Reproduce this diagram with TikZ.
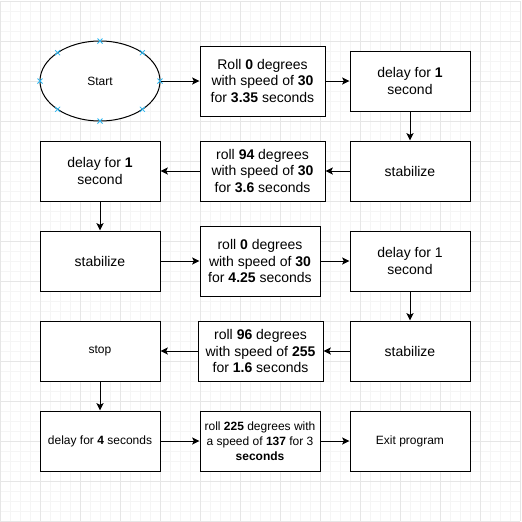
\documentclass[tikz,border=0pt]{standalone}
\usepackage{fontspec}
\setmainfont{Liberation Sans}
\usetikzlibrary{arrows.meta,shapes.geometric}
\definecolor{gridminor}{HTML}{F5F5F5}
\definecolor{gridmajor}{HTML}{E6E6E6}
\definecolor{pointblue}{HTML}{29B6F2}
\tikzset{
	box/.style={draw, line width=0.75pt, rectangle, minimum width=90pt, minimum height=45pt, inner sep=0pt, align=center, font=\fontsize{10.5}{12.6}\selectfont},
	smallbox/.style={box, font=\fontsize{9}{11.2}\selectfont},
	startoval/.style={draw, line width=0.75pt, ellipse, minimum width=90pt, minimum height=60pt, inner sep=0pt, font=\fontsize{9}{10.8}\selectfont},
	arr/.style={line width=0.75pt, -{Stealth[length=5.5pt,width=5.25pt,inset=1.2pt]}}
}

\begin{document}
\begin{tikzpicture}[x=0.75pt, y=-0.75pt]
			%%%%% START %%%%%
			
			\useasboundingbox (0, 0) rectangle (522, 522);
			\fill[white] (0, 0) rectangle (522, 522);
			
			% background grid
			\foreach \g in {0, 10, ..., 520} {
				\draw[gridminor, line width=0.75pt] (\g, 1) -- (\g, 521);
				\draw[gridminor, line width=0.75pt] (0, \g+1) -- (520, \g+1);
			}
			\foreach \g in {0, 40, ..., 520} {
				\draw[gridmajor, line width=0.75pt] (\g, 1) -- (\g, 521);
				\draw[gridmajor, line width=0.75pt] (0, \g+1) -- (520, \g+1);
			}
			
			% row 1
			\node[startoval, fill=white] (start) at (100, 81) {Start};
			\foreach \a in {0, 45, ..., 315} {
				\draw[pointblue, line width=0.6pt] ({100+60*cos(\a)-2.5}, {81+40*sin(\a)-2.5}) -- ++(5, 5) ++(-5, 0) -- ++(5, -5);
			}
			\node[box, fill=white, minimum width=93.75pt, minimum height=52.5pt] (roll0) at (262.5, 81) {Roll \textbf{0} degrees\\with speed of \textbf{30}\\for \textbf{3.35} seconds};
			\node[box, fill=white] (delayA) at (410, 81) {delay for \textbf{1}\\second};
			
			% row 2
			\node[box, fill=white] (stabA) at (410, 171) {stabilize};
			\node[box, fill=white, minimum width=93.75pt] (roll94) at (262.5, 171) {roll \textbf{94} degrees\\with speed of \textbf{30}\\for \textbf{3.6} seconds};
			\node[box, fill=white] (delayB) at (100, 171) {delay for \textbf{1}\\second};
			
			% row 3
			\node[box, fill=white] (stabB) at (100, 261) {stabilize};
			\node[box, fill=white, minimum height=52.5pt] (rollC) at (260, 261) {roll \textbf{0} degrees\\with speed of \textbf{30}\\for \textbf{4.25} seconds};
			\node[box, fill=white] (delayC) at (410, 261) {delay for 1\\second};
			
			% row 4
			\node[box, fill=white] (stabC) at (410, 351) {stabilize};
			\node[box, fill=white, minimum width=93.75pt] (roll96) at (260.5, 351) {roll \textbf{96} degrees\\with speed of \textbf{255}\\for \textbf{1.6} seconds};
			\node[smallbox, fill=white] (stop) at (100, 351) {stop};
			
			% row 5
			\node[smallbox, fill=white] (delayD) at (100, 441) {delay for \textbf{4} seconds};
			\node[smallbox, fill=white] (roll225) at (260, 441) {roll \textbf{225} degrees with\\a speed of \textbf{137} for 3\\\textbf{seconds}};
			\node[smallbox, fill=white] (exit) at (410, 441) {Exit program};
			
			% connectors
			\draw[arr] (start) -- (roll0);
			\draw[arr] (roll0) -- (delayA);
			\draw[arr] (delayA) -- (stabA);
			\draw[arr] (stabA) -- (roll94);
			\draw[arr] (roll94) -- (delayB);
			\draw[arr] (delayB) -- (stabB);
			\draw[arr] (stabB) -- (rollC);
			\draw[arr] (rollC) -- (delayC);
			\draw[arr] (delayC) -- (stabC);
			\draw[arr] (stabC) -- (roll96);
			\draw[arr] (roll96) -- (stop);
			\draw[arr] (stop) -- (delayD);
			\draw[arr] (delayD) -- (roll225);
			\draw[arr] (roll225) -- (exit);
			
			%%%%% END %%%%%
\end{tikzpicture}
\end{document}
